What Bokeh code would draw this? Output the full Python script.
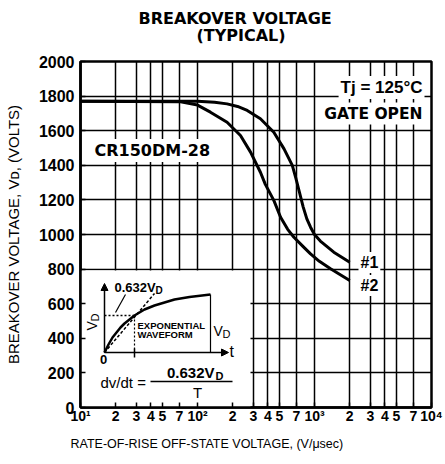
import math
from bokeh.plotting import figure
from bokeh.models import FixedTicker, Label, Arrow, NormalHead, Range1d, Title
from bokeh.embed import file_html
from bokeh.resources import INLINE

# ---------------- data ----------------
rate_1 = [10, 100, 140, 179, 220, 266, 345, 449, 549, 646, 690, 740, 800, 860, 925, 1000, 1122, 1462, 2000]
volt_1 = [1770, 1770, 1765, 1755, 1740, 1717, 1669, 1591, 1495, 1400, 1330, 1250, 1160, 1090, 1042, 1000, 962, 898, 840]
rate_2 = [10, 70, 100, 129, 179, 233, 284, 345, 380, 449, 513, 590, 667, 800, 925, 1100, 1371, 2000]
volt_2 = [1770, 1768, 1748, 1707, 1649, 1572, 1476, 1360, 1290, 1197, 1100, 1030, 984, 930, 888, 845, 802, 734]

x_ticks = [10, 20, 30, 40, 50, 70, 100, 200, 300, 400, 500, 700, 1000, 2000, 3000, 4000, 5000, 7000, 10000]
x_tick_labels = ["10¹", "2", "3", "4", "5", "7", "10²", "2", "3", "4", "5", "7", "10³", "2", "3", "4", "5", "7", "10⁴"]
y_ticks = [0, 200, 400, 600, 800, 1000, 1200, 1400, 1600, 1800, 2000]

# inset sketch: exponential waveform (local pixel units)
wave_t = [0, 4, 8, 12, 16, 20, 25, 30, 40, 50, 60, 70, 85, 106]
wave_v = [0, 8, 15, 20, 25, 29, 33, 37, 43, 47, 50, 53, 55.5, 58]

# ---------------- layout ----------------
W, H = 445, 464
FL, FR, FT, FB = 80, 431, 61, 407          # frame edges (pixels)

def dx(px):
    return 10 ** (1 + 3 * (px - FL) / (FR - FL))

def dy(py):
    return 2000 * (FB - py) / (FB - FT)

p = figure(width=W, height=H, x_axis_type="log",
           x_range=Range1d(10, 10000), y_range=Range1d(0, 2000),
           output_backend="svg", toolbar_location=None,
           min_border_left=FL, min_border_right=W - FR,
           min_border_top=FT, min_border_bottom=H - FB)
p.background_fill_color = "white"
p.border_fill_color = "white"
p.outline_line_color = "black"
p.outline_line_width = 2.5

# titles (nearest to the frame first)
p.add_layout(Title(text="(TYPICAL)", align="left", offset=116, standoff=34,
                   text_font="DejaVu Sans", text_font_size="16px",
                   text_font_style="bold", text_color="black"), "above")
p.add_layout(Title(text="BREAKOVER VOLTAGE", align="left", offset=58, standoff=-42,
                   text_font="DejaVu Sans", text_font_size="16px",
                   text_font_style="bold", text_color="black"), "above")
p.add_layout(Title(text="RATE-OF-RISE OFF-STATE VOLTAGE, (V/μsec)", align="left",
                   offset=-10, standoff=17,
                   text_font="Liberation Sans", text_font_size="12.5px",
                   text_font_style="normal", text_color="black"), "below")

p.xaxis.ticker = FixedTicker(ticks=x_ticks, minor_ticks=[])
p.xgrid.ticker = FixedTicker(ticks=x_ticks, minor_ticks=[])
p.yaxis.ticker = FixedTicker(ticks=y_ticks, minor_ticks=[])
p.ygrid.ticker = FixedTicker(ticks=y_ticks, minor_ticks=[])
p.xaxis.major_label_overrides = {t: s for t, s in zip(x_ticks, x_tick_labels)}

for ax in (p.xaxis, p.yaxis):
    ax.axis_line_color = "black"
    ax.axis_line_width = 2.5
    ax.major_tick_in = 5
    ax.major_tick_out = 0
    ax.major_tick_line_color = "black"
    ax.major_tick_line_width = 1.5
    ax.minor_tick_line_color = None
    ax.major_label_text_font = "Liberation Sans"
    ax.major_label_text_font_style = "bold"
    ax.major_label_text_color = "black"
p.xaxis.major_label_text_font_size = "14px"
p.xaxis.major_label_standoff = 0
p.yaxis.major_label_text_font_size = "16px"
p.yaxis.major_label_standoff = 6

p.yaxis.axis_label = "BREAKOVER VOLTAGE, Vᴅ, (VOLTS)"
p.yaxis.axis_label_text_font = "Liberation Sans"
p.yaxis.axis_label_text_font_size = "15px"
p.yaxis.axis_label_text_font_style = "normal"
p.yaxis.axis_label_text_color = "black"
p.yaxis.axis_label_standoff = 14

for g in (p.xgrid, p.ygrid):
    g.grid_line_color = "black"
    g.grid_line_width = 1.5
    g.grid_line_alpha = 1.0

# ---------------- inset background ----------------
p.quad(left=10, right=dx(250), bottom=0, top=dy(270), fill_color="white", line_color=None)

# ---------------- curves ----------------
p.line(rate_1, volt_1, line_width=3, line_color="black", line_join="round")
p.line(rate_2, volt_2, line_width=3, line_color="black", line_join="round")

# ---------------- text helpers ----------------
def lab(text, px, py, size, bold=True, align="left", baseline="middle", bg=None, angle=0.0,
        font="Liberation Sans"):
    l = Label(x=dx(px), y=dy(py), text=text, text_font=font,
              text_font_size=f"{size}px", text_font_style="bold" if bold else "normal",
              text_align=align, text_baseline=baseline, angle=angle, text_color="black")
    if bg:
        l.background_fill_color = bg
        l.padding = 2
    p.add_layout(l)

# annotations inside plot
lab("Tj = 125°C", 424, 87, 17, align="right", bg="white")
lab("GATE OPEN", 424, 113, 15.5, align="right", bg="white", font="DejaVu Sans")
lab("CR150DM-28", 92, 150, 16, bg="white", font="DejaVu Sans")
lab("#1", 358, 262, 16, bg="white")
lab("#2", 358, 285, 16, bg="white")

# ---------------- inset sketch ----------------
OX, OY = 104, 352

def ix(u):
    return dx(OX + u)

def iy(v):
    return dy(OY - v)

p.add_layout(Arrow(end=NormalHead(size=7, fill_color="black", line_color="black"),
                   x_start=ix(0), y_start=iy(0), x_end=ix(0), y_end=iy(69),
                   line_width=1.5, line_color="black"))
p.add_layout(Arrow(end=NormalHead(size=7, fill_color="black", line_color="black"),
                   x_start=ix(0), y_start=iy(0), x_end=ix(124), y_end=iy(0),
                   line_width=1.5, line_color="black"))
p.line([ix(t) for t in wave_t], [iy(v) for v in wave_v], line_width=2.5, line_color="black")
p.line([ix(0), ix(30)], [iy(37), iy(37)], line_width=1.5, line_color="black", line_dash="2 2")
p.line([ix(30), ix(30)], [iy(37), iy(0)], line_width=1.2, line_color="black", line_dash="2 2")
p.line([ix(0), ix(50)], [iy(0), iy(59)], line_width=1.5, line_color="black", line_dash="3 2")
p.line([ix(30), ix(30)], [iy(4), iy(-5)], line_width=1.5, line_color="black")
p.line([ix(21), ix(11)], [iy(58), iy(40)], line_width=1.2, line_color="black")
p.line([ix(106), ix(106)], [iy(58), iy(0)], line_width=1.2, line_color="black")

lab("0.632V", OX + 10, OY - 65, 13)
lab("D", OX + 51, OY - 62, 10)
lab("EXPONENTIAL", OX + 33, OY - 27, 9.5)
lab("WAVEFORM", OX + 33, OY - 18, 9.5)
lab("V", OX + 109, OY - 22, 14, bold=False)
lab("D", OX + 118, OY - 19, 11, bold=False)
lab("t", OX + 125, OY - 1, 16, bold=False)
lab("0", OX - 1, OY + 7, 13, align="center")
lab("V", OX - 13, OY - 22, 14, bold=False, align="left", angle=math.pi / 2)
lab("D", OX - 10, OY - 31, 11, bold=False, align="left", angle=math.pi / 2)

lab("dv/dt =", OX - 4, OY + 30, 15, bold=False)
p.line([ix(46), ix(128)], [iy(-29), iy(-29)], line_width=1.5, line_color="black")
lab("0.632V", OX + 110, OY + 20, 15, align="right")
lab("D", OX + 111, OY + 23, 11)
lab("T", OX + 93, OY + 40, 15, bold=False, align="center")

open("out.html", "w").write(file_html(p, INLINE))
